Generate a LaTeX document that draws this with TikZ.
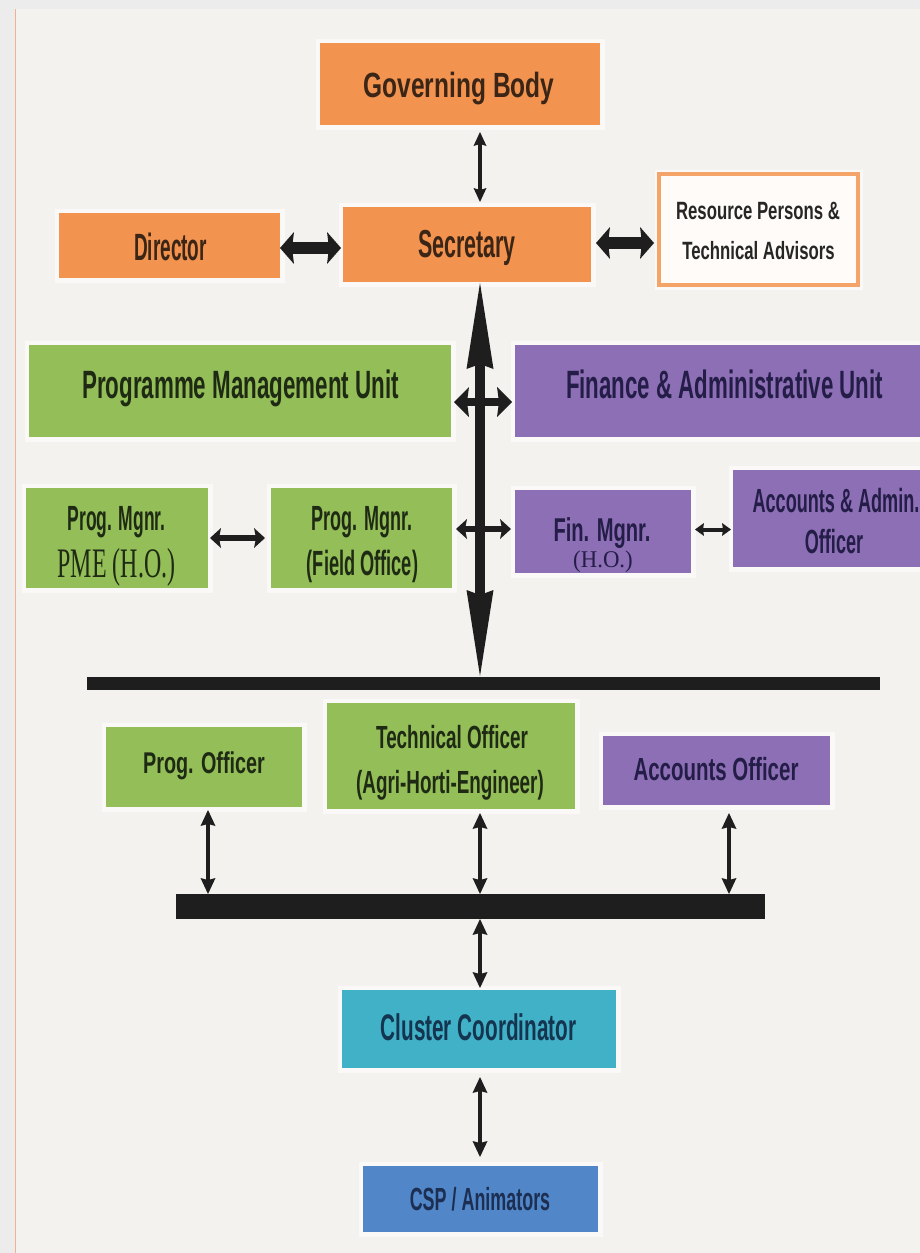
\documentclass[tikz,border=0pt]{standalone}
\usepackage{fontspec}
\usetikzlibrary{arrows.meta,calc}
\setmainfont{Liberation Sans}
\newfontfamily\ser{Liberation Serif}
\newcommand\sq[3]{\scalebox{#1}[1]{\fontsize{#2}{#2}\selectfont #3}}
\definecolor{bgout}{HTML}{ECECEC}
\definecolor{bgin}{HTML}{F4F2EF}
\definecolor{edgeor}{HTML}{F2B08C}
\definecolor{orng}{HTML}{F2934F}
\definecolor{grn}{HTML}{93BE58}
\definecolor{purp}{HTML}{8D6FB5}
\definecolor{cyanb}{HTML}{41B1C8}
\definecolor{blueb}{HTML}{5187C8}
\definecolor{oink}{HTML}{3A2516}
\definecolor{gink}{HTML}{1F2A14}
\definecolor{ink}{HTML}{262626}
\definecolor{pink}{HTML}{241D48}
\definecolor{cink}{HTML}{14344F}
\definecolor{bink}{HTML}{1C2F52}
\definecolor{arr}{HTML}{1E1E1E}
\begin{document}
\begin{tikzpicture}[x=1pt,y=-1pt,
  box/.style={rectangle, inner sep=0pt, outer sep=0pt,
    preaction={draw=white, line width=9pt, draw opacity=0.55}},
  lbl/.style={inner sep=0pt, anchor=base, font=\bfseries},
  thinarr/.style={draw=arr, line width=3.5pt, <->,
    >={Stealth[length=14pt,width=13pt,inset=2pt,line width=0pt]}},
  lowarr/.style={draw=arr, line width=4.5pt, <->,
    >={Stealth[length=16pt,width=15pt,inset=2pt,line width=0pt]}},
  bigarr/.style={draw=arr, line width=10pt, <->,
    >={Stealth[length=86pt,width=27pt,inset=5pt,line width=0pt]}},
  fatarr/.style={draw=arr, line width=12pt, <->,
    >={Stealth[length=14pt,width=32pt,inset=2pt,line width=0pt]}},
  crossarr/.style={draw=arr, line width=8pt, <->,
    >={Stealth[length=15pt,width=30pt,inset=2pt,line width=0pt]}},
  smallarr/.style={draw=arr, line width=6pt, <->,
    >={Stealth[length=11pt,width=20pt,inset=2pt,line width=0pt]}},
  tinyarr/.style={draw=arr, line width=4pt, <->,
    >={Stealth[length=9pt,width=13pt,inset=1pt,line width=0pt]}},
  bar/.style={rectangle, fill=arr, inner sep=0pt, outer sep=0pt}
]
\useasboundingbox (0,0) rectangle (920,1253);
% background
\fill[bgout] (0,0) rectangle (920,1253);
\fill[bgin] (15,9) rectangle (920,1253);
\draw[edgeor, line width=1.2pt] (15.5,9) -- (15.5,1253);

\coordinate (spine) at (480,0);

% top levels
\node[box, fill=orng, minimum width=280pt, minimum height=82pt] (gb) at (460,84) {};
\node[lbl, text=oink] (gbT) at (459,97) {\sq{0.70}{35}{Governing Body}};

\node[box, fill=orng, minimum width=248pt, minimum height=75pt] (sec) at (467,244.5) {};
\node[lbl, text=oink] (secT) at (467,257) {\sq{0.55}{39}{Secretary}};

\node[box, fill=orng, minimum width=221pt, minimum height=65pt] (dir) at (169.5,245.5) {};
\node[lbl, text=oink] (dirT) at (170.5,260) {\sq{0.50}{38}{Director}};

\node[box, fill=white!96!orng, draw=orng!85!white, line width=4pt,
      minimum width=199pt, minimum height=111pt] (res) at (758.5,229.5) {};
\node[lbl, text=ink] (resT1) at (758,219) {\sq{0.67}{25}{Resource Persons \&}};
\node[lbl, text=ink] (resT2) at (758.5,259) {\sq{0.67}{25}{Technical Advisors}};

% units
\node[box, fill=grn, minimum width=422pt, minimum height=92pt] (pmu) at (240,391) {};
\node[lbl, text=gink] (pmuT) at (240.5,398) {\sq{0.566}{39.5}{Programme Management Unit}};

\node[box, fill=purp, minimum width=415pt, minimum height=92pt] (fau) at (722.5,391) {};
\node[lbl, text=pink] (fauT) at (724.5,398) {\sq{0.564}{39.5}{Finance \& Administrative Unit}};

% managers
\node[box, fill=grn, minimum width=182pt, minimum height=100pt] (pme) at (117,538) {};
\node[lbl, text=gink] (pmeT1) at (116.5,530) {\sq{0.50}{35}{Prog. Mgnr.}};
\node[lbl, text=gink, font=\ser] (pmeT2) at (116.5,577) {\sq{0.57}{42}{PME (H.O.)}};

\node[box, fill=grn, minimum width=181pt, minimum height=100pt] (fo) at (361.5,538) {};
\node[lbl, text=gink] (foT1) at (362,530) {\sq{0.514}{35}{Prog. Mgnr.}};
\node[lbl, text=gink] (foT2) at (362.5,575) {\sq{0.52}{35}{(Field Office)}};

\node[box, fill=purp, minimum width=176pt, minimum height=83pt] (fin) at (603,531.5) {};
\node[lbl, text=pink] (finT1) at (602,541) {\sq{0.61}{33}{Fin. Mgnr.}};
\node[lbl, text=pink, font=\ser] (finT2) at (603,567) {\sq{0.95}{24}{(H.O.)}};

\node[box, fill=purp, minimum width=197pt, minimum height=97pt] (acc) at (831.5,518.5) {};
\node[lbl, text=pink] (accT1) at (836,512) {\sq{0.54}{33.5}{Accounts \& Admin.}};
\node[lbl, text=pink] (accT2) at (834,553) {\sq{0.54}{33.5}{Officer}};

% bars
\node[bar, minimum width=793pt, minimum height=13pt] (bar1) at (483.5,683.5) {};
\node[bar, minimum width=589pt, minimum height=25pt] (bar2) at (470.5,906.5) {};

% officers
\node[box, fill=grn, minimum width=196pt, minimum height=80pt] (po) at (204,767) {};
\node[lbl, text=gink] (poT) at (204,773) {\sq{0.66}{30}{Prog. Officer}};

\node[box, fill=grn, minimum width=248pt, minimum height=106pt] (to) at (451,756) {};
\node[lbl, text=gink] (toT1) at (452,748) {\sq{0.59}{32}{Technical Officer}};
\node[lbl, text=gink] (toT2) at (450,793) {\sq{0.59}{32}{(Agri-Horti-Engineer)}};

\node[box, fill=purp, minimum width=227pt, minimum height=69pt] (ao) at (716.5,770.5) {};
\node[lbl, text=pink] (aoT) at (716,780) {\sq{0.64}{32}{Accounts Officer}};

% bottom
\node[box, fill=cyanb, minimum width=274pt, minimum height=78pt] (cc) at (479,1029) {};
\node[lbl, text=cink] (ccT) at (478.5,1040) {\sq{0.56}{37}{Cluster Coordinator}};

\node[box, fill=blueb, minimum width=235pt, minimum height=66pt] (csp) at (480.5,1199) {};
\node[lbl, text=bink] (cspT) at (480,1210) {\sq{0.56}{32}{CSP / Animators}};

% connectors
\draw[thinarr, shorten <=7pt, shorten >=5pt] (gb.south -| spine) -- (sec.north -| spine);
\coordinate (ds) at ($(dir.east)+(0,2.5)$);
\draw[fatarr, shorten >=2pt] (ds) -- (ds -| sec.west);
\coordinate (sr) at ($(sec.east)+(0,-1.5)$);
\draw[fatarr, shorten <=5pt, shorten >=5pt] (sr) -- (sr -| res.west);
\draw[bigarr, shorten <=1pt, shorten >=1pt] (sec.south -| spine) -- (bar1.north -| spine);

\coordinate (pf) at ($(pmu.east)+(0,11)$);
\draw[crossarr, shorten <=3pt, shorten >=3pt] (pf) -- (pf -| fau.west);
\coordinate (c2) at ($(fo.east)+(0,-9)$);
\draw[smallarr, shorten <=4pt, shorten >=4pt] (c2) -- (c2 -| fin.west);
\draw[smallarr, shorten <=2pt, shorten >=6pt] (pme.east) -- (pme.east -| fo.west);
\coordinate (fa) at ($(fin.east)+(0,-2)$);
\draw[tinyarr, shorten <=4pt, shorten >=2pt] (fa) -- (fa -| acc.west);

\coordinate (poS) at ($(po.south)+(4,0)$);
\draw[lowarr, shorten <=3pt] (poS) -- (poS |- bar2.north);
\draw[lowarr, shorten <=4pt] (to.south -| spine) -- (bar2.north -| spine);
\coordinate (aoS) at ($(ao.south)+(12.5,0)$);
\draw[lowarr, shorten <=8pt] (aoS) -- (aoS |- bar2.north);
\draw[lowarr, shorten >=2pt] (bar2.south -| spine) -- (cc.north -| spine);
\draw[lowarr, shorten <=9pt, shorten >=9pt] (cc.south -| spine) -- (csp.north -| spine);
\end{tikzpicture}
\end{document}
